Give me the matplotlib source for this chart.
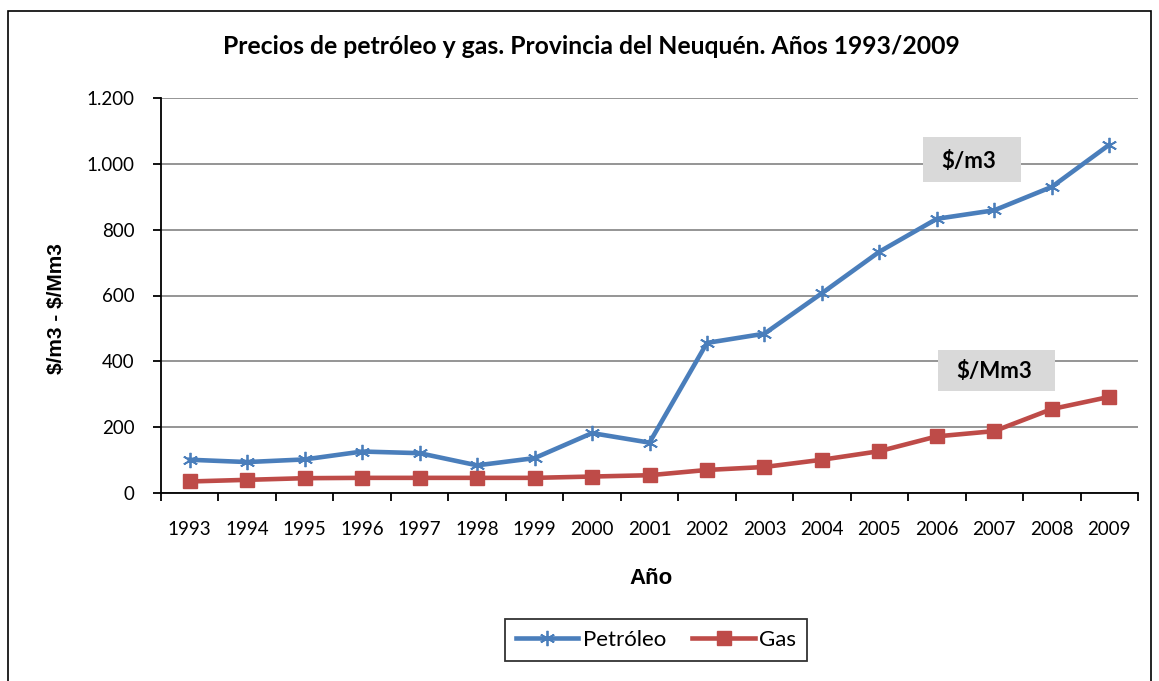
import matplotlib
matplotlib.use("Agg")
import matplotlib.pyplot as plt
from matplotlib.patches import Rectangle
from matplotlib.ticker import FuncFormatter, FixedLocator

years = [str(y) for y in range(1993, 2010)]
petroleo = [101, 94, 102, 126, 121, 84, 106, 182, 153, 456, 484, 607, 733, 833, 859, 930, 1058]
gas = [35, 40, 45, 46, 46, 46, 46, 50, 54, 70, 79, 101, 127, 172, 188, 255, 292]

plt.rcParams['font.family'] = ['Lato', 'DejaVu Sans']
plt.rcParams['text.parse_math'] = False

W, H = 1159, 681
fig = plt.figure(figsize=(W / 100, H / 100), dpi=100)
ax = fig.add_axes([161 / W, 1 - 493 / H, (1138 - 161) / W, (493 - 98) / H])


def fx(px):
    return px / W


def fy(py):
    return 1 - py / H


# outer chart border
fig.patches.append(Rectangle((fx(8), -0.05), fx(1151 - 8), 1.05 - 11 / H,
                             transform=fig.transFigure, fill=False,
                             edgecolor='black', linewidth=1.2))

x = list(range(len(years)))
ax.plot(x, petroleo, color='#4a7ebb', linewidth=3.3, marker=(6, 2, 0),
        markersize=11, markeredgewidth=1.3, markeredgecolor='#4a7ebb', label='Petróleo')
ax.plot(x, gas, color='#be4b48', linewidth=3.3, marker='s', markersize=9.5,
        markeredgecolor='#be4b48', label='Gas')

ax.set_xlim(-0.5, len(years) - 0.5)
ax.set_ylim(0, 1200)
ax.set_yticks(range(0, 1201, 200))
ax.yaxis.set_major_formatter(FuncFormatter(lambda v, p: f"{int(v):,}".replace(',', '.')))
ax.set_xticks(x)
ax.set_xticklabels(years)
ax.xaxis.set_minor_locator(FixedLocator([i - 0.5 for i in range(len(years) + 1)]))
ax.tick_params(axis='x', which='major', length=0, labelsize=13.5, pad=20)
ax.tick_params(axis='x', which='minor', length=6, width=1.3, direction='out')
ax.tick_params(axis='y', length=6, width=1.3, direction='out', labelsize=13.5, pad=13)

ax.grid(axis='y', color='#8c8c8c', linewidth=1.3)
ax.set_axisbelow(True)
for s in ['top', 'right']:
    ax.spines[s].set_visible(False)
for s in ['left', 'bottom']:
    ax.spines[s].set_linewidth(1.3)

fig.text(fx(591), fy(47),
         'Precios de petróleo y gas. Provincia del Neuquén. Años 1993/2009',
         ha='center', va='center', fontsize=17.8, fontweight='bold')
fig.text(fx(57), fy(309), '$/m3 - $/Mm3', rotation=90, ha='center', va='center',
         fontsize=15, fontweight='bold', family='Liberation Sans')
fig.text(fx(651), fy(579), 'Año', ha='center', va='center',
         fontsize=16, fontweight='bold', family='Liberation Sans')

# grey label boxes
fig.patches.append(Rectangle((fx(923), fy(182)), fx(98), 45 / H, transform=fig.transFigure,
                             facecolor='#d9d9d9', edgecolor='none', zorder=3))
fig.patches.append(Rectangle((fx(938), fy(391)), fx(117), 41 / H, transform=fig.transFigure,
                             facecolor='#d9d9d9', edgecolor='none', zorder=3))
fig.text(fx(969), fy(161), '$/m3', ha='center', va='center', fontsize=16,
         fontweight='bold', zorder=4)
fig.text(fx(994), fy(372), '$/Mm3', ha='center', va='center', fontsize=16,
         fontweight='bold', zorder=4)

leg = fig.legend(loc='center', bbox_to_anchor=(fx(656), fy(640)), ncol=2,
                 fontsize=16, frameon=True, fancybox=False, edgecolor='black',
                 handlelength=2.8, columnspacing=1.2, handletextpad=0.2,
                 borderpad=0.5, borderaxespad=0)
leg.get_frame().set_linewidth(1.3)

fig.savefig('out.png', dpi=100)
